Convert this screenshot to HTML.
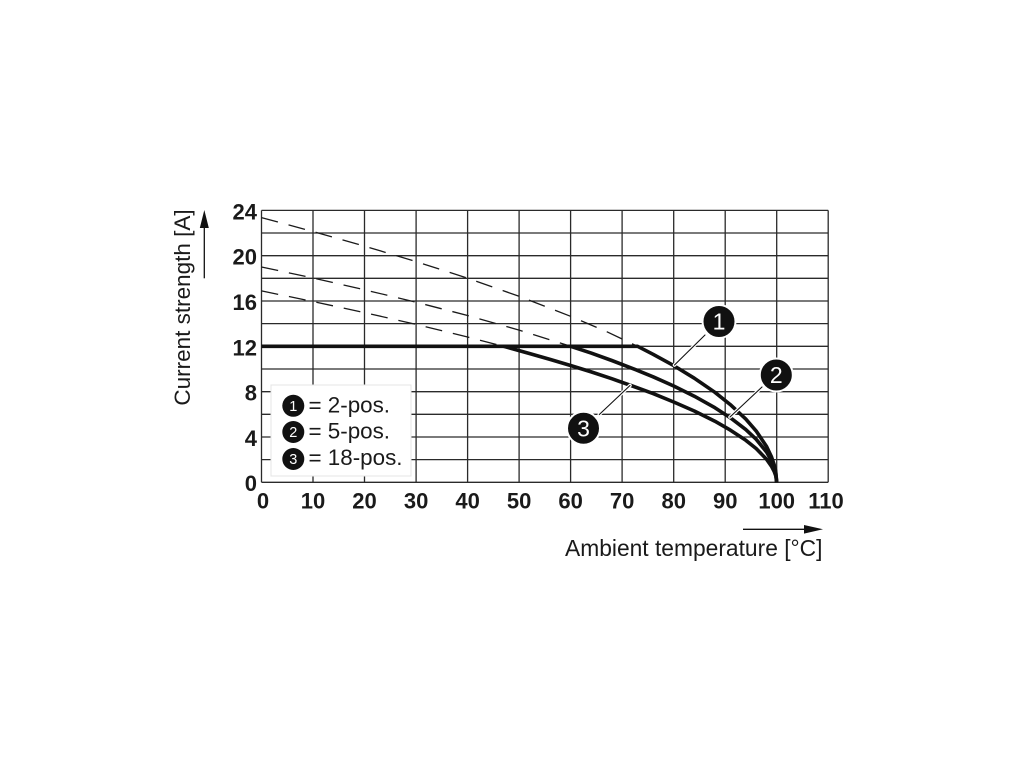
<!DOCTYPE html>
<html>
<head>
<meta charset="utf-8">
<style>
  html,body{margin:0;padding:0;background:#fff;}
  svg{display:block;}
  text{font-family:"Liberation Sans",Arial,sans-serif;fill:#1a1a1a;}
  .tick{font-weight:bold;font-size:22px;}
  .title{font-size:22.8px;}
  .leg{font-size:22.4px;}
</style>
</head>
<body>
<svg width="1020" height="765" viewBox="0 0 1020 765" xmlns="http://www.w3.org/2000/svg">
  <rect x="0" y="0" width="1020" height="765" fill="#fff"/>
  <!-- grid -->
  <g stroke="#2a2a2a" stroke-width="1.3" fill="none">
    <line x1="261.5" y1="210.4" x2="261.5" y2="482.3"/>
    <line x1="313.0" y1="210.4" x2="313.0" y2="482.3"/>
    <line x1="364.5" y1="210.4" x2="364.5" y2="482.3"/>
    <line x1="416.1" y1="210.4" x2="416.1" y2="482.3"/>
    <line x1="467.6" y1="210.4" x2="467.6" y2="482.3"/>
    <line x1="519.1" y1="210.4" x2="519.1" y2="482.3"/>
    <line x1="570.6" y1="210.4" x2="570.6" y2="482.3"/>
    <line x1="622.1" y1="210.4" x2="622.1" y2="482.3"/>
    <line x1="673.7" y1="210.4" x2="673.7" y2="482.3"/>
    <line x1="725.2" y1="210.4" x2="725.2" y2="482.3"/>
    <line x1="776.7" y1="210.4" x2="776.7" y2="482.3"/>
    <line x1="828.2" y1="210.4" x2="828.2" y2="482.3"/>
    <line x1="261.5" y1="482.3" x2="828.2" y2="482.3"/>
    <line x1="261.5" y1="459.6" x2="828.2" y2="459.6"/>
    <line x1="261.5" y1="437.0" x2="828.2" y2="437.0"/>
    <line x1="261.5" y1="414.3" x2="828.2" y2="414.3"/>
    <line x1="261.5" y1="391.7" x2="828.2" y2="391.7"/>
    <line x1="261.5" y1="369.0" x2="828.2" y2="369.0"/>
    <line x1="261.5" y1="346.3" x2="828.2" y2="346.3"/>
    <line x1="261.5" y1="323.6" x2="828.2" y2="323.6"/>
    <line x1="261.5" y1="301.0" x2="828.2" y2="301.0"/>
    <line x1="261.5" y1="278.3" x2="828.2" y2="278.3"/>
    <line x1="261.5" y1="255.7" x2="828.2" y2="255.7"/>
    <line x1="261.5" y1="233.0" x2="828.2" y2="233.0"/>
    <line x1="261.5" y1="210.4" x2="828.2" y2="210.4"/>
  </g>

  <!-- legend box -->
  <rect x="271" y="385" width="140" height="91" fill="#fff" stroke="#e4e4e4" stroke-width="1"/>

  <!-- dashed extrapolations -->
  <g stroke="#1a1a1a" stroke-width="1.3" fill="none" stroke-dasharray="17 11">
    <polyline points="261.5,217.6 313.0,231.5 364.5,246.1 416.1,261.6 467.6,278.2 519.1,296.3 570.6,316.3 606.7,331.7 637.6,346.3"/>
    <polyline points="261.5,267.0 313.0,278.0 364.5,289.8 416.1,302.2 467.6,315.5 519.1,330.1 570.6,346.3"/>
    <polyline points="261.5,290.9 313.0,301.5 364.5,312.6 416.1,324.4 467.6,337.0 503.6,346.3"/>
  </g>

  <!-- solid curves -->
  <g stroke="#111" stroke-width="3.6" fill="none" stroke-linejoin="round" stroke-linecap="butt">
    <polyline points="261.5,346.3 637.6,346.3 653.1,354.3 673.7,365.6 694.3,378.2 714.9,392.3 730.3,404.6 745.8,419.1 756.1,430.9 766.4,446.2 771.5,456.9 774.1,464.5 775.7,471.1 776.7,482.3"/>
    <polyline points="570.6,346.3 591.2,353.1 611.8,360.5 632.4,368.4 653.1,376.8 673.7,386.0 694.3,396.2 714.9,407.7 730.3,417.7 745.8,429.6 756.1,439.2 766.4,451.8 771.5,460.8 774.1,467.1 775.7,472.7 776.7,482.3"/>
    <polyline points="503.6,346.3 529.4,353.5 550.0,359.4 570.6,365.5 591.2,371.9 611.8,378.7 632.4,386.0 653.1,393.6 673.7,402.0 694.3,411.0 714.9,421.2 730.3,430.1 745.8,440.3 756.1,448.5 766.4,459.1 771.5,466.3 774.1,471.3 775.7,475.6 776.7,482.3"/>
  </g>

  <!-- leader lines with white halo -->
  <g fill="none" stroke-linecap="round">
    <g stroke="#fff" stroke-width="3.5">
      <line x1="705" y1="335" x2="674.5" y2="365"/>
      <line x1="762" y1="387" x2="730" y2="417"/>
      <line x1="599.3" y1="414.5" x2="630" y2="385.5"/>
    </g>
    <g stroke="#111" stroke-width="1.1">
      <line x1="705" y1="335" x2="674.5" y2="365"/>
      <line x1="762" y1="387" x2="730" y2="417"/>
      <line x1="599.3" y1="414.5" x2="630" y2="385.5"/>
    </g>
  </g>

  <!-- callout circles -->
  <g stroke="#fff" stroke-width="2" fill="#111">
    <circle cx="719" cy="321.5" r="16.5"/>
    <circle cx="776.3" cy="375" r="16.5"/>
    <circle cx="583.5" cy="428.3" r="16.5"/>
  </g>
  <g font-size="23" text-anchor="middle">
    <text x="719" y="329.7" style="fill:#fff">1</text>
    <text x="776.3" y="383.2" style="fill:#fff">2</text>
    <text x="583.5" y="436.5" style="fill:#fff">3</text>
  </g>

  <!-- legend -->
  <g fill="#111">
    <circle cx="293.3" cy="405.8" r="11"/>
    <circle cx="293.3" cy="432" r="11"/>
    <circle cx="293.3" cy="459" r="11"/>
  </g>
  <g font-size="14.5" text-anchor="middle">
    <text x="293.3" y="411" style="fill:#fff">1</text>
    <text x="293.3" y="437.2" style="fill:#fff">2</text>
    <text x="293.3" y="464.2" style="fill:#fff">3</text>
  </g>
  <text class="leg" x="308.5" y="412.5">= 2-pos.</text>
  <text class="leg" x="308.5" y="438.7">= 5-pos.</text>
  <text class="leg" x="308.5" y="465.2">= 18-pos.</text>

  <!-- y tick labels -->
  <g class="tick" text-anchor="end">
    <text class="tick" x="257" y="219.5">24</text>
    <text class="tick" x="257" y="264.5">20</text>
    <text class="tick" x="257" y="310">16</text>
    <text class="tick" x="257" y="355.3">12</text>
    <text class="tick" x="257" y="400.5">8</text>
    <text class="tick" x="257" y="446">4</text>
    <text class="tick" x="257" y="491">0</text>
  </g>

  <!-- x tick labels -->
  <g text-anchor="middle">
    <text class="tick" x="263" y="508.5">0</text>
    <text class="tick" x="313.0" y="508.5">10</text>
    <text class="tick" x="364.5" y="508.5">20</text>
    <text class="tick" x="416.1" y="508.5">30</text>
    <text class="tick" x="467.6" y="508.5">40</text>
    <text class="tick" x="519.1" y="508.5">50</text>
    <text class="tick" x="570.6" y="508.5">60</text>
    <text class="tick" x="622.1" y="508.5">70</text>
    <text class="tick" x="673.7" y="508.5">80</text>
    <text class="tick" x="725.2" y="508.5">90</text>
    <text class="tick" x="776.7" y="508.5">100</text>
    <text class="tick" x="826" y="508.5">110</text>
  </g>

  <!-- axis titles -->
  <text class="title" transform="translate(190,307.5) rotate(-90)" text-anchor="middle" style="font-size:22.5px">Current strength [A]</text>
  <line x1="204.3" y1="278.3" x2="204.3" y2="224" stroke="#111" stroke-width="1.3"/>
  <polygon points="204.3,210 199.8,228 208.8,228" fill="#111"/>

  <text class="title" x="565" y="556">Ambient temperature [°C]</text>
  <line x1="743" y1="529.3" x2="808" y2="529.3" stroke="#111" stroke-width="1.3"/>
  <polygon points="823,529.3 804,525 804,533.6" fill="#111"/>
</svg>
</body>
</html>
